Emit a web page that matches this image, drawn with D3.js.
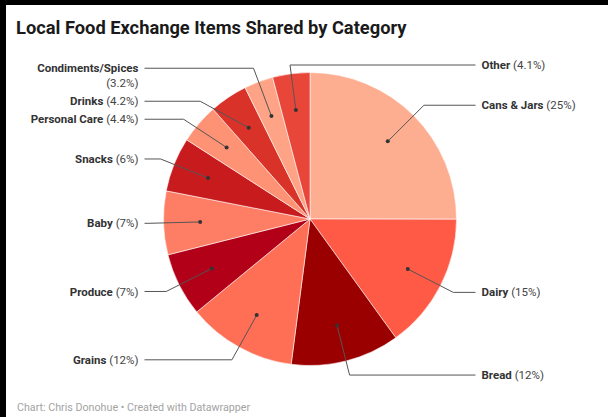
<!DOCTYPE html>
<html>
<head>
<meta charset="utf-8">
<script src="https://cdn.jsdelivr.net/npm/d3@7"></script>
<style>
  html, body { margin: 0; padding: 0; background: #000; }
  svg { display: block; }
  text { font-family: Roboto, "Noto Sans", sans-serif; }
</style>
</head>
<body>
<script>
const categories = ["Cans & Jars", "Dairy", "Bread", "Grains", "Produce", "Baby", "Snacks", "Personal Care", "Drinks", "Condiments/Spices", "Other"];
const values = [25, 15, 12, 12, 7, 7, 6, 4.4, 4.2, 3.2, 4.1];
const colors = ["#fdae91", "#fe5a45", "#9b0000", "#fe6f56", "#b10018", "#fe7e65", "#c81b1e", "#fd9274", "#d93229", "#fea386", "#e9463a"];
const title = "Local Food Exchange Items Shared by Category";
const footer = "Chart: Chris Donohue \u2022 Created with Datawrapper";

const W = 608, H = 417;
const svg = d3.select("body").append("svg").attr("width", W).attr("height", H);
svg.append("rect").attr("width", W).attr("height", H).attr("fill", "#000");
svg.append("rect").attr("x", 6).attr("y", 5).attr("width", W - 6).attr("height", H - 5).attr("fill", "#fff");

svg.append("text").attr("x", 16).attr("y", 33.5)
  .attr("font-size", 18.3).attr("font-weight", 700).attr("fill", "#1a1a1a").text(title);
svg.append("text").attr("x", 17).attr("y", 411)
  .attr("font-size", 10.7).attr("fill", "#a3a3a3").text(footer);

const cx = 310, cy = 219, r = 146.5;
const R = r + 14.5;          // leader bend radius
const colOff = r + 19;       // horizontal line end
const dotR = r * 0.75;

const g = svg.append("g").attr("transform", `translate(${cx},${cy})`);
const pie = d3.pie().sort(null).value(d => d);
const arcs = pie(values);
const arc = d3.arc().innerRadius(0).outerRadius(r);
const dotArc = d3.arc().innerRadius(dotR).outerRadius(dotR);

g.selectAll("path.slice").data(arcs).enter().append("path")
  .attr("class", "slice")
  .attr("d", arc)
  .attr("fill", (d, i) => colors[i])
  .attr("stroke", "#fff").attr("stroke-width", 0.7).attr("stroke-opacity", 0.8);

// label layout
const items = arcs.map((d, i) => {
  const mid = (d.startAngle + d.endAngle) / 2;
  const right = Math.sin(mid) >= 0 || Math.cos(mid) > 0.97;
  return { i, d, mid, right, y: -R * Math.cos(mid), lines: 1 };
});

const labG = svg.append("g");
const fs = 11.5, lineH = 15;
items.forEach(it => {
  const t = labG.append("text").attr("font-size", fs).attr("fill", "#333")
    .attr("text-anchor", it.right ? "start" : "end");
  it.node = t;
  t.append("tspan").attr("font-weight", 700).text(categories[it.i]);
  t.append("tspan").attr("fill", "#444").text(" (" + values[it.i] + "%)");
  const w = t.node().getComputedTextLength();
  if (!it.right && w > 125) {
    it.lines = 2;
    t.text(null);
    t.append("tspan").attr("font-weight", 700).text(categories[it.i]);
    t.append("tspan").attr("class", "l2").attr("fill", "#444").attr("dy", lineH).text("(" + values[it.i] + "%)");
  }
});

const topY = -r - 7.5;
[true, false].forEach(side => {
  const list = items.filter(it => it.right === side).sort((a, b) => a.y - b.y);
  let prevEnd = -Infinity;
  list.forEach(it => {
    it.y = Math.max(it.y, topY, prevEnd);
    prevEnd = it.y + lineH * it.lines + 3;
  });
});

items.forEach(it => {
  const colX = it.right ? colOff : -colOff;
  const [dx, dy] = dotArc.centroid(it.d);
  const sliceRight = Math.sin(it.mid) >= 0;
  let bx;
  if (sliceRight === it.right && Math.abs(it.y) < R) {
    bx = (it.right ? 1 : -1) * Math.sqrt(R * R - it.y * it.y);
  } else {
    bx = dx / dy * it.y; // along radial line
  }
  g.append("path")
    .attr("d", d3.line()([[dx, dy], [bx, it.y], [colX, it.y]]))
    .attr("fill", "none").attr("stroke", "#555").attr("stroke-width", 1);
  g.append("circle").attr("cx", dx).attr("cy", dy).attr("r", 2).attr("fill", "#333");
  const tx = cx + colX + (it.right ? 6 : -6);
  it.node.attr("x", tx).attr("y", cy + it.y).attr("dy", "0.35em");
  it.node.selectAll("tspan.l2").attr("x", tx);
});
</script>
</body>
</html>
